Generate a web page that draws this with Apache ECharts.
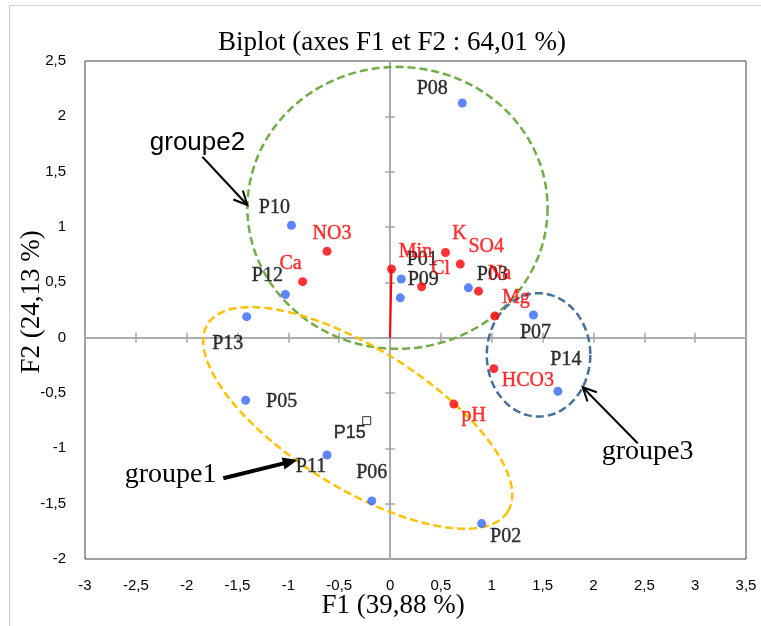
<!DOCTYPE html>
<html>
<head>
<meta charset="utf-8">
<script src="https://cdn.jsdelivr.net/npm/echarts@6/dist/echarts.min.js"></script>
<style>
html, body {margin: 0; padding: 0; background: #fff;}
#main {width: 761px; height: 626px;}
</style>
</head>
<body>
<div id="main"></div>
<script>
/* Biplot F1 x F2 */
// observations (blue points)
const obsNames = ['P01', 'P02', 'P03', 'P05', 'P06', 'P07', 'P08', 'P09', 'P10', 'P11', 'P12', 'P13', 'P14'];
const obsF1 = [0.11, 0.90, 0.77, -1.42, -0.18, 1.41, 0.71, 0.10, -0.97, -0.62, -1.03, -1.41, 1.65];
const obsF2 = [0.53, -1.68, 0.45, -0.565, -1.475, 0.205, 2.12, 0.36, 1.015, -1.06, 0.39, 0.19, -0.485];
// supplementary observation (hollow square)
const supNames = ['P15'];
const supF1 = [-0.23];
const supF2 = [-0.75];
// variables (red points)
const varNames = ['Min', 'NO3', 'Ca', 'K', 'SO4', 'Cl', 'Na', 'Mg', 'HCO3', 'pH'];
const varF1 = [0.014, -0.62, -0.86, 0.545, 0.69, 0.31, 0.87, 1.03, 1.02, 0.627];
const varF2 = [0.62, 0.78, 0.506, 0.77, 0.665, 0.46, 0.42, 0.196, -0.28, -0.60];
// group ellipses: centre, half axes (F1 units, F2 units), tilt in degrees
const ellNames = ['groupe2', 'groupe1', 'groupe3'];
const ellF1 = [0.073, -0.318, 1.46];
const ellF2 = [1.173, -0.725, -0.156];
const ellA = [1.476, 1.74, 0.509];
const ellB = [1.274, 0.63, 0.557];
const ellTilt = [0, 32, 0];
// annotation arrows: start, end, label position
const arrStartF1 = [-1.846, -1.640, 2.435];
const arrStartF2 = [1.635, -1.270, -0.954];
const arrEndF1 = [-1.404, -0.911, 1.894];
const arrEndF2 = [1.199, -1.105, -0.448];
const arrTextF1 = [-1.894, -2.159, 2.533];
const arrTextF2 = [1.758, -1.240, -1.030];
// tick values
const xMin = -3, xMax = 3.5, yMin = -2, yMax = 2.5, step = 0.5;

// label offsets (px, from point centre) -- style only
const labelOffset = {
    P01: [21, -19], P02: [24, 13], P03: [24, -13], P05: [36, 2], P06: [0, -28],
    P07: [2, 18], P08: [-30, -14], P09: [23, -18], P10: [-17, -18], P11: [-16, 12],
    P12: [-18, -19], P13: [-19, 27], P14: [8, -32], P15: [-17, 12],
    Min: [24, -17], NO3: [5, -18], Ca: [-12, -18], K: [14, -19], SO4: [26, -17],
    Cl: [19, -18], Na: [21, -17], Mg: [21, -18], HCO3: [34, 12], pH: [20, 12]
};
const ellColors = ['#70ad47', '#ffc000', '#41719c'];
const arrStyle = [
    {width: 2, filled: false, font: '26px "Liberation Sans"'},
    {width: 4, filled: true, font: '28px "Liberation Serif"'},
    {width: 2, filled: false, font: '28px "Liberation Serif"'}
];
const SERIF = '"Liberation Serif", "Times New Roman", serif';
const fmt = v => String(v).replace('.', ',');

function pointData(names, xs, ys){
    let out = [];
    for (let i = 0; i < names.length; i++){
        out.push({
            name: names[i],
            value: [xs[i], ys[i]],
            label: {offset: labelOffset[names[i]] || [0, 0]}
        });
    }
    return out;
}

let ellData = [];
for (let i = 0; i < ellNames.length; i++){
    ellData.push({name: ellNames[i], value: [ellF1[i], ellF2[i], ellA[i], ellB[i], ellTilt[i], i]});
}
let arrData = [];
for (let i = 0; i < ellNames.length; i++){
    arrData.push({name: ellNames[i], value: [arrStartF1[i], arrStartF2[i], arrEndF1[i], arrEndF2[i], arrTextF1[i], arrTextF2[i], i]});
}
const minIdx = varNames.indexOf('Min');

function zeroAxis(side, inside){
    return {
        type: 'value', min: side === 'x' ? xMin : yMin, max: side === 'x' ? xMax : yMax, interval: step,
        axisLine: {show: true, onZero: true, lineStyle: {color: '#a6a6a6', width: 1.5}},
        axisTick: {show: true, inside: inside, length: 5, lineStyle: {color: '#a6a6a6', width: 1.5}},
        axisLabel: {show: false},
        splitLine: {show: false}
    };
}

// thin same-colour stroke so the small serif labels read as solid as in the original
function labelStyle(color, size, family){
    return {show: true, position: 'inside', formatter: '{b}', color: color, fontSize: size, fontFamily: family,
        textBorderColor: color, textBorderWidth: 0.4, textShadowBlur: 0};
}

let option = {
    backgroundColor: '#fff',
    animation: false,
    grid: {left: 85, right: 15, top: 61, bottom: 67, show: true, borderColor: '#404040', borderWidth: 1},
    graphic: [
        {type: 'rect', shape: {x: 9.5, y: 5.5, width: 800, height: 700}, style: {fill: 'none', stroke: '#d0d0d0', lineWidth: 1}, z: -10},
        {type: 'text', x: 392, y: 43, style: {text: 'Biplot (axes F1 et F2 : 64,01 %)', font: '27px ' + SERIF, fill: '#000', textAlign: 'center', textVerticalAlign: 'middle'}},
        {type: 'text', x: 393, y: 606, style: {text: 'F1 (39,88 %)', font: '27px ' + SERIF, fill: '#000', textAlign: 'center', textVerticalAlign: 'middle'}},
        {type: 'text', x: 32, y: 302, rotation: Math.PI / 2, style: {text: 'F2 (24,13 %)', font: '27px ' + SERIF, fill: '#000', textAlign: 'center', textVerticalAlign: 'middle'}}
    ],
    xAxis: [
        {
            type: 'value', min: xMin, max: xMax, interval: step, position: 'bottom',
            axisLine: {show: false, onZero: false}, axisTick: {show: false}, splitLine: {show: false},
            axisLabel: {formatter: fmt, fontSize: 15, color: '#000', fontFamily: '"Liberation Sans"', margin: 19}
        },
        zeroAxis('x', false),
        zeroAxis('x', true)
    ],
    yAxis: [
        {
            type: 'value', min: yMin, max: yMax, interval: step, position: 'left',
            axisLine: {show: false, onZero: false}, axisTick: {show: false}, splitLine: {show: false},
            axisLabel: {formatter: fmt, fontSize: 15, color: '#000', fontFamily: '"Liberation Sans"', margin: 19}
        },
        zeroAxis('y', false),
        zeroAxis('y', true)
    ],
    series: [
        {
            type: 'custom', name: 'ellipses', z: 2, clip: false,
            data: ellData,
            renderItem: function(params, api){
                let c = api.coord([api.value(0), api.value(1)]);
                let s = api.size([1, 1]);
                let a = api.value(2) * s[0], b = api.value(3) * s[1];
                let th = api.value(4) * Math.PI / 180;
                let pts = [];
                for (let k = 0; k <= 144; k++){
                    let t = k / 144 * 2 * Math.PI;
                    pts.push([
                        c[0] + a * Math.cos(t) * Math.cos(th) - b * Math.sin(t) * Math.sin(th),
                        c[1] + a * Math.cos(t) * Math.sin(th) + b * Math.sin(t) * Math.cos(th)
                    ]);
                }
                return {
                    type: 'polygon', shape: {points: pts},
                    style: {fill: 'none', stroke: ellColors[api.value(5)], lineWidth: 2.5, lineDash: [8, 4]}
                };
            }
        },
        {
            type: 'line', name: 'vector', z: 3, symbol: 'none', silent: true,
            data: [[0, 0], [varF1[minIdx], varF2[minIdx]]],
            lineStyle: {color: '#ff0000', width: 2}
        },
        {
            type: 'scatter', name: 'Observations', z: 5, symbol: 'circle', symbolSize: 9,
            data: pointData(obsNames, obsF1, obsF2),
            itemStyle: {color: '#3366ff'},
            label: labelStyle('#000', 20, SERIF)
        },
        {
            type: 'scatter', name: 'Supplementary', z: 5, symbol: 'rect', symbolSize: 8,
            data: pointData(supNames, supF1, supF2),
            itemStyle: {color: '#fff', borderColor: '#000', borderWidth: 1},
            label: labelStyle('#000', 18, '"Liberation Sans"')
        },
        {
            type: 'scatter', name: 'Variables', z: 6, symbol: 'circle', symbolSize: 9,
            data: pointData(varNames, varF1, varF2),
            itemStyle: {color: '#ff0000'},
            label: labelStyle('#ff0000', 20, SERIF)
        },
        {
            type: 'custom', name: 'arrows', z: 7, clip: false,
            data: arrData,
            renderItem: function(params, api){
                let p0 = api.coord([api.value(0), api.value(1)]);
                let p1 = api.coord([api.value(2), api.value(3)]);
                let pt = api.coord([api.value(4), api.value(5)]);
                let st = arrStyle[api.value(6)];
                let ang = Math.atan2(p1[1] - p0[1], p1[0] - p0[0]);
                let hl = st.filled ? 16 : 15, ha = st.filled ? 0.4 : 0.45;
                let h1 = [p1[0] - hl * Math.cos(ang - ha), p1[1] - hl * Math.sin(ang - ha)];
                let h2 = [p1[0] - hl * Math.cos(ang + ha), p1[1] - hl * Math.sin(ang + ha)];
                let children = [];
                let lineEnd = st.filled ? [p1[0] - 10 * Math.cos(ang), p1[1] - 10 * Math.sin(ang)] : p1;
                children.push({type: 'line', shape: {x1: p0[0], y1: p0[1], x2: lineEnd[0], y2: lineEnd[1]},
                    style: {stroke: '#000', lineWidth: st.width}});
                if (st.filled){
                    children.push({type: 'polygon', shape: {points: [p1, h1, h2]}, style: {fill: '#000'}});
                } else {
                    children.push({type: 'polyline', shape: {points: [h1, p1, h2]},
                        style: {stroke: '#000', lineWidth: st.width, fill: 'none'}});
                }
                children.push({type: 'text', x: pt[0], y: pt[1],
                    style: {text: ellNames[api.value(6)],
                        font: st.font, fill: '#000', textAlign: 'center', textVerticalAlign: 'middle'}});
                return {type: 'group', children: children};
            }
        }
    ]
};

let chart = echarts.init(document.getElementById('main'), null, {renderer: 'canvas'});
chart.setOption(option);
</script>
</body>
</html>
